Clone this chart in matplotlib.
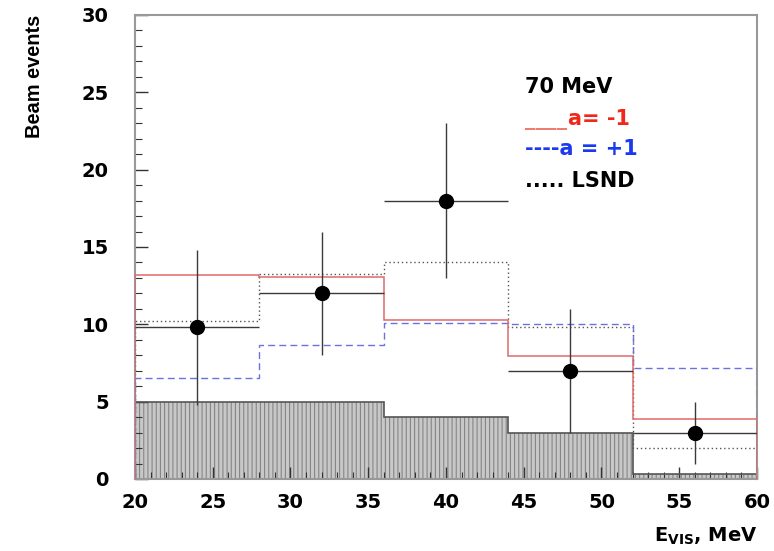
import matplotlib
matplotlib.use("Agg")
import matplotlib.pyplot as plt
import numpy as np

plt.rcParams['font.family'] = ['DejaVu Sans']
plt.rcParams['hatch.linewidth'] = 0.8

# Energy bins (MeV)
bin_edges = [20, 28, 36, 44, 52, 60]
bin_centers = [24, 32, 40, 48, 56]

# Expected spectra
a_minus1 = [13.2, 13.05, 10.25, 7.95, 3.85]
a_plus1 = [6.5, 8.65, 10.1, 10.05, 7.2]
lsnd = [10.2, 13.25, 14.0, 9.8, 2.0]
background = [5.0, 5.0, 4.0, 3.0, 0.3]

# Measured beam events
data_y = [9.8, 12.0, 18.0, 7.0, 3.0]
data_yerr = [5.0, 4.0, 5.0, 4.0, 2.0]
data_xerr = [4, 4, 4, 4, 4]

fig = plt.figure(figsize=(7.74, 5.51), dpi=100)
ax = fig.add_axes([0.1744, 0.1307, 0.8036, 0.8421])

# Background: hatched, filled histogram
ax.stairs(background, bin_edges, baseline=0, fill=True,
          facecolor='#c8c8c8', edgecolor='#858585', hatch='||||', lw=0, zorder=1)
ax.stairs(background, bin_edges, baseline=0, fill=False,
          color='#555555', lw=1.2, zorder=2)

ax.stairs(lsnd, bin_edges, baseline=0, color='#555555', lw=1.0,
          linestyle=(0, (1, 2)), zorder=3)
ax.stairs(a_plus1, bin_edges, baseline=0, color='#6a72e0', lw=1.0,
          linestyle=(0, (5, 3)), zorder=3)
ax.stairs(a_minus1, bin_edges, baseline=0, color='#e06a6a', lw=1.1, zorder=4)

ax.errorbar(bin_centers, data_y, xerr=data_xerr, yerr=data_yerr, fmt='o',
            color='#3a3a3a', ecolor='#3a3a3a', elinewidth=1.0, capsize=0,
            markersize=10, markerfacecolor='black', markeredgecolor='black',
            zorder=5)

ax.set_xlim(20, 60)
ax.set_ylim(0, 30)
ax.set_xticks(np.arange(20, 61, 5))
ax.set_yticks(np.arange(0, 31, 5))
ax.set_xticks(np.arange(20, 61, 1), minor=True)
ax.set_yticks(np.arange(0, 31, 1), minor=True)
ax.tick_params(axis='both', which='major', direction='in', length=9, width=1,
               color='#333333', labelsize=14)
ax.tick_params(axis='both', which='minor', direction='in', length=5, width=0.8,
               color='#333333')
ax.tick_params(top=False, right=False, which='both')
ax.tick_params(axis='x', which='major', pad=10)
ax.tick_params(axis='y', which='major', pad=19)
for lab in ax.get_xticklabels() + ax.get_yticklabels():
    lab.set_fontweight('bold')
for s in ax.spines.values():
    s.set_color('#999999')
    s.set_linewidth(1.5)

fig.text(0.044, 0.973, 'Beam events', rotation=90, ha='center', va='top',
         fontsize=14.4, fontweight='bold', family='Liberation Sans')
fig.text(0.978, 0.016, r'E$_{\mathbf{VIS}}$, MeV', ha='right', va='baseline',
         fontsize=14, fontweight='bold')

legend_x = 0.627
ax.text(legend_x, 0.832, '70 MeV', transform=ax.transAxes, fontsize=15,
        fontweight='bold', color='black', va='baseline')
ax.text(legend_x, 0.763, '____', transform=ax.transAxes, fontsize=15,
        fontweight='bold', color='#ee7a70', va='baseline')
ax.text(legend_x + 0.069, 0.763, 'a= -1', transform=ax.transAxes, fontsize=15,
        fontweight='bold', color='#f0281a', va='baseline')
ax.text(legend_x, 0.698, '----a = +1', transform=ax.transAxes, fontsize=15,
        fontweight='bold', color='#1a3af0', va='baseline')
ax.text(legend_x, 0.629, '..... LSND', transform=ax.transAxes, fontsize=15,
        fontweight='bold', color='black', va='baseline')

fig.savefig('out.png', dpi=100)
